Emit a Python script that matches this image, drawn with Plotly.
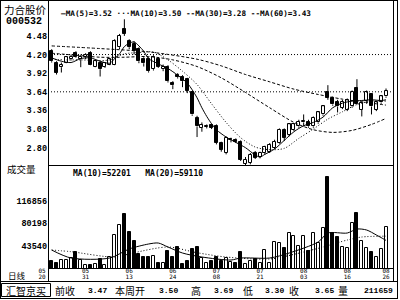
import plotly.graph_objects as go

W, H = 400, 300

# ---------------- data ----------------
opens = [4.26, 4.08, 4.01, 4.08, 4.13, 4.23, 4.13, 4.16, 4.23, 4.02,
         4.08, 4.02, 4.05, 4.05, 4.31, 4.58, 4.40, 4.36, 4.28, 4.13,
         4.13, 3.98, 4.13, 3.98, 4.02, 3.77, 3.90, 3.87, 3.83, 3.63,
         3.25, 3.10, 3.11, 3.14, 3.12, 2.87, 2.72, 2.92, 2.92, 2.89,
         2.56, 2.57, 2.72, 2.66, 2.72, 2.74, 2.80, 2.87, 3.07, 2.99,
         3.07, 3.12, 3.18, 3.19, 3.12, 3.18, 3.30, 3.63, 3.55, 3.48,
         3.40, 3.37, 3.42, 3.70, 3.37, 3.50, 3.60, 3.37, 3.48, 3.57]
highs = [4.28, 4.10, 4.08, 4.17, 4.20, 4.25, 4.20, 4.22, 4.25, 4.13,
         4.10, 4.08, 4.14, 4.43, 4.51, 4.73, 4.43, 4.40, 4.31, 4.16,
         4.16, 4.19, 4.16, 4.05, 4.04, 3.80, 3.92, 3.89, 3.85, 3.65,
         3.28, 3.18, 3.15, 3.16, 3.15, 2.89, 2.97, 2.95, 2.94, 2.91,
         2.66, 2.72, 2.75, 2.74, 2.83, 2.87, 2.92, 3.09, 3.09, 3.16,
         3.17, 3.22, 3.30, 3.22, 3.27, 3.35, 3.44, 3.74, 3.57, 3.52,
         3.52, 3.54, 3.66, 3.83, 3.49, 3.66, 3.62, 3.49, 3.58, 3.69]
lows = [4.08, 3.90, 3.93, 4.07, 4.11, 4.15, 4.01, 4.13, 4.04, 4.01,
        3.87, 4.00, 4.04, 4.04, 4.28, 4.48, 4.28, 4.20, 4.07, 4.02,
        3.93, 3.96, 4.00, 3.95, 3.78, 3.68, 3.84, 3.71, 3.62, 3.28,
        2.96, 3.04, 3.09, 3.08, 2.85, 2.74, 2.70, 2.88, 2.87, 2.60,
        2.53, 2.55, 2.63, 2.64, 2.70, 2.72, 2.78, 2.86, 2.90, 2.97,
        3.05, 3.10, 3.12, 3.10, 3.10, 3.16, 3.28, 3.52, 3.43, 3.33,
        3.38, 3.35, 3.40, 3.44, 3.27, 3.46, 3.30, 3.35, 3.46, 3.55]
closes = [4.10, 3.93, 4.04, 4.16, 4.17, 4.16, 4.17, 4.20, 4.05, 4.10,
          3.98, 4.07, 4.13, 4.40, 4.48, 4.51, 4.31, 4.25, 4.10, 4.07,
          3.95, 4.16, 4.02, 4.02, 3.80, 3.74, 3.86, 3.80, 3.65, 3.30,
          3.12, 3.14, 3.13, 3.10, 2.87, 2.77, 2.95, 2.93, 2.89, 2.62,
          2.62, 2.69, 2.65, 2.72, 2.81, 2.84, 2.89, 3.07, 2.95, 3.15,
          3.15, 3.19, 3.20, 3.12, 3.25, 3.33, 3.42, 3.55, 3.45, 3.42,
          3.49, 3.52, 3.64, 3.45, 3.47, 3.63, 3.42, 3.48, 3.57, 3.65]
volumes = [18600, 15800, 20200, 20200, 23000, 33800, 20200, 12100, 12100, 13700,
           21900, 12100, 25100, 61000, 77300, 95200, 65900, 51200, 30000, 25600,
           24600, 26800, 15400, 15800, 35400, 24600, 40900, 13200, 19100, 38200,
           41900, 23000, 14900, 18600, 25600, 18300, 23800, 17500, 15800, 33800,
           13700, 19100, 21400, 14900, 36500, 15800, 50100, 48400, 39300, 63700,
           59300, 43100, 59300, 34900, 63700, 48400, 71900, 155900, 64700, 58200,
           41900, 39300, 81000, 97300, 51200, 40300, 32800, 25600, 38200, 74000]

# moving-average lines, sampled along the bars (bar index -> value)
ma5_idx = [0, 2, 4, 6, 8, 10, 12, 13, 14, 15, 16, 17, 18, 19, 20, 22, 24, 26, 28, 29,
           30, 31, 32, 33, 34, 36, 38, 40, 42, 43, 44, 46, 48, 50, 52, 54, 56, 58, 60,
           62, 64, 66, 68, 69]
ma5_val = [4.15, 4.10, 4.08, 4.14, 4.15, 4.10, 4.07, 4.14, 4.21, 4.32, 4.37, 4.39, 4.33,
           4.25, 4.14, 4.06, 3.99, 3.89, 3.77, 3.67, 3.55, 3.40, 3.27, 3.16, 3.07, 2.96,
           2.88, 2.80, 2.69, 2.66, 2.70, 2.78, 2.91, 3.04, 3.13, 3.18, 3.26, 3.40, 3.47,
           3.50, 3.51, 3.52, 3.51, 3.52]
ma10_idx = [0, 3, 6, 9, 12, 15, 18, 21, 24, 27, 30, 33, 36, 39, 42, 45, 48, 51, 54, 57,
            60, 63, 66, 69]
ma10_val = [4.13, 4.12, 4.12, 4.11, 4.12, 4.21, 4.23, 4.24, 4.12, 3.95, 3.75, 3.46, 3.18,
            2.95, 2.81, 2.77, 2.79, 2.94, 3.08, 3.23, 3.34, 3.45, 3.50, 3.50]
ma30_idx = [0, 5, 10, 15, 20, 25, 30, 35, 40, 45, 50, 54, 58, 62, 66, 69]
ma30_val = [4.22, 4.19, 4.16, 4.16, 4.17, 4.12, 4.02, 3.85, 3.63, 3.40, 3.18, 3.07, 3.03,
            3.06, 3.15, 3.24]
ma60_idx = [0, 10, 20, 30, 35, 40, 45, 50, 55, 60, 65, 69]
ma60_val = [4.33, 4.29, 4.24, 4.13, 4.03, 3.90, 3.79, 3.68, 3.60, 3.53, 3.48, 3.44]

vma10_idx = [0, 4, 12, 16, 20, 22, 24, 27, 31, 37, 39, 45, 49, 55, 57, 61, 63, 65, 67, 69]
vma10_val = [36500, 23500, 23500, 38200, 46300, 47900, 41400, 31600, 25100, 20200,
             23500, 23500, 31600, 49600, 64200, 64200, 70700, 69100, 61000, 52200]
vma20_idx = [0, 4, 13, 17, 24, 30, 36, 45, 52, 56, 61, 64, 69]
vma20_val = [36500, 33800, 25100, 32100, 41400, 32100, 25100, 21900, 33300, 41400,
             52800, 57700, 59100]

price_ticks = [2.80, 3.08, 3.36, 3.64, 3.92, 4.20, 4.48]
price_tick_text = ["2.80", "3.08", "3.36", "3.64", "3.92", "4.20", "4.48"]
price_ref_lines = [4.20, 3.64]
vol_ticks = [43540, 80198, 116856]
vol_tick_text = ["43540", "80198", "116856"]

date_idx = [-2, 7, 16, 25, 34, 43, 52, 61, 69]
date_month = ["05", "05", "06", "06", "07", "07", "08", "08", "08"]
date_day = ["20", "31", "13", "24", "08", "21", "03", "16", "26"]

stock_name = "力合股价"
stock_code = "000532"
price_title = "—MA(5)=3.52 ···MA(10)=3.50 --MA(30)=3.28 --MA(60)=3.43"
vol_title = "MA(10)=52201   MA(20)=59110"
info_items = [("前收", 53, "cjk"), ("3.47", 86, "num"), ("本周开", 113, "cjk"),
              ("3.50", 157, "num"), ("高", 189, "cjk"), ("3.69", 212, "num"),
              ("低", 241, "cjk"), ("3.30", 263, "num"), ("收", 287, "cjk"),
              ("3.65", 313, "num"), ("量", 336, "cjk"), ("211659", 362, "num")]

# ---------------- helpers ----------------
def px(x):
    return x / W


def py(y):
    return 1 - y / H


MONO = "DejaVu Sans Mono"
LMONO = "Liberation Mono"
CJK = "Noto Sans CJK SC"
N = len(closes)
idx = list(range(N))
X_RANGE = [-0.76, 70.44]
BAR_STEP_PX = 4.845
Y_RANGE = [2.54, 4.99]

# ---------------- traces ----------------
wick_x, wick_y = [], []
for i, (o, h, l, c) in enumerate(zip(opens, highs, lows, closes)):
    top, bot = max(o, c), min(o, c)
    wick_x += [i, i, None, i, i, None]
    wick_y += [h, top, None, bot, l, None]

body_base = [min(o, c) for o, c in zip(opens, closes)]
body_h = [max(abs(c - o), 0.006) for o, c in zip(opens, closes)]
colors = ["white" if c >= o else "black" for o, c in zip(opens, closes)]

fig = go.Figure()

fig.add_trace(go.Bar(x=idx, y=body_h, base=body_base, width=0.62,
                     marker=dict(color=colors, line=dict(color="black", width=1)),
                     xaxis="x", yaxis="y", hoverinfo="skip"))
fig.add_trace(go.Scatter(x=wick_x, y=wick_y, mode="lines",
                         line=dict(color="black", width=1),
                         xaxis="x", yaxis="y", hoverinfo="skip"))

ma_style = [(ma5_idx, ma5_val, "solid"), (ma10_idx, ma10_val, "1px,2px"),
            (ma30_idx, ma30_val, "3px,2px"), (ma60_idx, ma60_val, "3px,2px")]
for xi, yv, dash in ma_style:
    fig.add_trace(go.Scatter(x=xi, y=yv, mode="lines", line_shape="spline",
                             line=dict(color="black", width=1, dash=dash, smoothing=0.8),
                             xaxis="x", yaxis="y", hoverinfo="skip"))

fig.add_trace(go.Bar(x=idx, y=volumes, width=0.62,
                     marker=dict(color=colors, line=dict(color="black", width=1)),
                     xaxis="x2", yaxis="y2", hoverinfo="skip"))
for xi, yv, dash in [(vma10_idx, vma10_val, "solid"), (vma20_idx, vma20_val, "1px,2px")]:
    fig.add_trace(go.Scatter(x=xi, y=yv, mode="lines", line_shape="spline",
                             line=dict(color="black", width=1, dash=dash, smoothing=0.8),
                             xaxis="x2", yaxis="y2", hoverinfo="skip"))

# date labels on a wider helper axis that shares the bar scale
fig.add_trace(go.Scatter(x=date_idx, y=[0.72] * len(date_idx), mode="text", text=date_month,
                         textfont=dict(family=MONO, size=6, color="black"),
                         cliponaxis=False, xaxis="x3", yaxis="y3", hoverinfo="skip"))
fig.add_trace(go.Scatter(x=date_idx, y=[0.28] * len(date_idx), mode="text", text=date_day,
                         textfont=dict(family=MONO, size=6, color="black"),
                         cliponaxis=False, xaxis="x3", yaxis="y3", hoverinfo="skip"))

# ---------------- layout ----------------
tickfont = dict(family=LMONO, size=8.5, color="black", weight="bold")
x3_left = X_RANGE[0] - 48 / BAR_STEP_PX

fig.update_layout(
    width=W, height=H, margin=dict(l=0, r=0, t=0, b=0),
    paper_bgcolor="white", plot_bgcolor="white", showlegend=False, bargap=0,
    xaxis=dict(domain=[px(48), px(393)], range=X_RANGE, visible=False, anchor="y"),
    yaxis=dict(domain=[py(165), py(2)], range=Y_RANGE, tickmode="array",
               tickvals=price_ticks, ticktext=price_tick_text, showgrid=False,
               zeroline=False, ticks="", showline=False, tickfont=tickfont, anchor="x"),
    xaxis2=dict(domain=[px(48), px(393)], range=X_RANGE, visible=False, anchor="y2",
                matches="x"),
    yaxis2=dict(domain=[py(268), py(165)], range=[7213, 175000], tickmode="array",
                tickvals=vol_ticks, ticktext=vol_tick_text, showgrid=False,
                zeroline=False, ticks="", showline=False, tickfont=tickfont, anchor="x2"),
    xaxis3=dict(domain=[0, px(393)], range=[x3_left, X_RANGE[1]], visible=False,
                anchor="y3"),
    yaxis3=dict(domain=[py(281), py(268)], range=[0, 1], visible=False, anchor="x3"),
)

shapes = []
for v in price_ref_lines:
    shapes.append(dict(type="line", xref="x domain", yref="y", x0=0, x1=1, y0=v, y1=v,
                       line=dict(color="black", width=1, dash="1px,2px")))


def hline(y, x0, x1):
    shapes.append(dict(type="line", xref="paper", yref="paper", x0=px(x0), x1=px(x1),
                       y0=py(y), y1=py(y), line=dict(color="black", width=1)))


def vline(x, y0, y1):
    shapes.append(dict(type="line", xref="paper", yref="paper", x0=px(x), x1=px(x),
                       y0=py(y0), y1=py(y1), line=dict(color="black", width=1)))


hline(0.5, 0, 398)
hline(165.5, 48, 393)
hline(268.5, 48, 393)
hline(281.5, 0, 398)
hline(298.5, 0, 398)
vline(0.5, 0, 299)
vline(48.5, 0, 281)
vline(393.5, 0, 281)
vline(397.5, 0, 299)
shapes.append(dict(type="rect", xref="paper", yref="paper", x0=px(1.5), x1=px(50.5),
                   y0=py(296.5), y1=py(283.5), line=dict(color="black", width=1)))
fig.update_layout(shapes=shapes)

ann = []


def text(t, x, y, font, size, xanchor="left", bold=False):
    ann.append(dict(text=t, x=px(x), y=py(y), xref="paper", yref="paper",
                    xanchor=xanchor, yanchor="middle", showarrow=False,
                    font=dict(family=font, size=size, color="black",
                              weight="bold" if bold else "normal")))


text(stock_name, 2, 9, CJK, 10.5)
text(stock_code, 4, 21, LMONO, 10, bold=True)
text(price_title, 59, 14, MONO, 7.7, bold=True)
text("成交量", 5, 169, CJK, 9.5)
text(vol_title, 71, 173, MONO, 8, bold=True)
text("日线", 6, 275, CJK, 8.5)
text("汇智京买", 26, 290.5, CJK, 10, xanchor="center")
for t, x, kind in info_items:
    if kind == "cjk":
        text(t, x, 290.5, CJK, 10)
    else:
        text(t, x, 290.5, LMONO, 8, bold=True)
fig.update_layout(annotations=ann)

fig.write_html("out.html")
